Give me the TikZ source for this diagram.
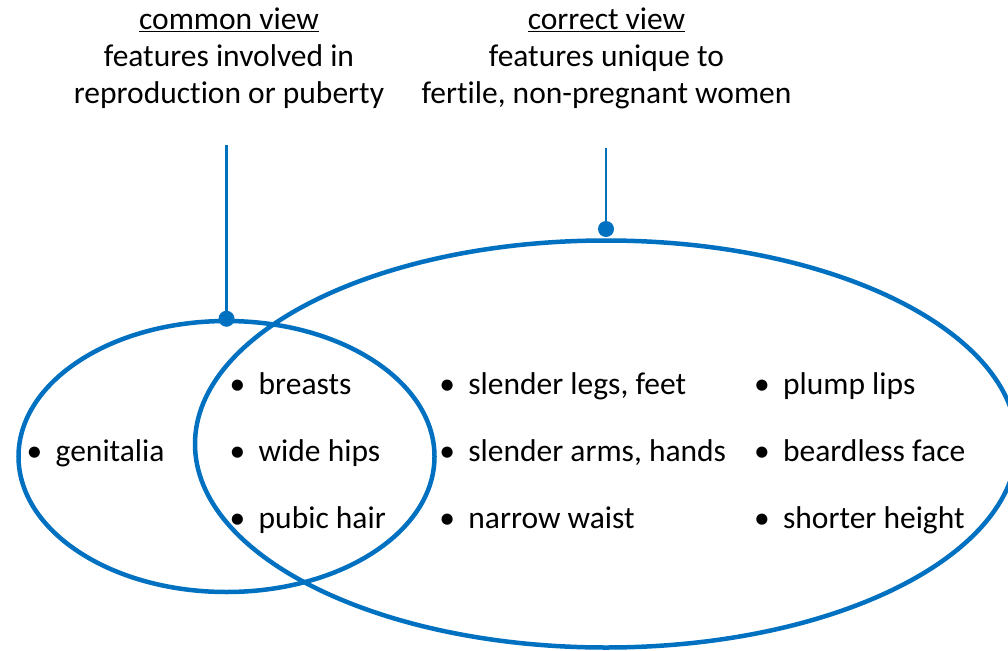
\documentclass[tikz,border=0pt]{standalone}
\usepackage{fontspec}
\setmainfont{Carlito}[Ligatures=NoCommon]
\usetikzlibrary{shapes.geometric}
\definecolor{vblue}{HTML}{0070C0}
\tikzset{
  venn/.style={draw=vblue, line width=4.5pt, ellipse, inner sep=0pt},
  lead/.style={draw=vblue, line width=2.8pt},
  knob/.style={fill=vblue, draw=none},
  title/.style={align=center, inner sep=0pt, font=\fontsize{31.5}{37}\selectfont, anchor=base},
  item/.style={inner sep=0pt, anchor=base west, font=\fontsize{31.5}{37}\selectfont},
}
\newcommand{\bul}{\makebox[29pt][l]{•}}
\begin{document}
\begin{tikzpicture}[x=1pt,y=-1pt]
  \useasboundingbox (0,0) rectangle (1008,650);
  % ellipses
  \node[venn, minimum width=416pt, minimum height=271pt] (small) at (226.5,456.5) {};
  \node[venn, minimum width=822pt, minimum height=407pt] (big) at (606,444) {};
  % titles
  \node[title] (t1) at (229,104) {\underline{common view}\\features involved in\\reproduction or puberty};
  \node[title] (t2) at (606.5,104) {\underline{correct view}\\features unique to\\fertile, non-pregnant women};
  % leader lines
  \coordinate (c1) at (226.5,145);
  \coordinate (c2) at (606,148);
  \coordinate (d2) at (606,229);
  \draw[lead] (c1) -- (small.north);
  \draw[lead] (c2) -- (d2);
  \fill[knob] (small.north) circle (8pt);
  \fill[knob] (d2) circle (8pt);
  % items
  \node[item] (g)  at (26.5,461) {\bul genitalia};
  \node[item] (b1) at (229.5,394) {\bul breasts};
  \node[item] (b2) at (229.5,461) {\bul wide hips};
  \node[item] (b3) at (229.5,528) {\bul pubic hair};
  \node[item] (s1) at (439.2,394) {\bul slender legs, feet};
  \node[item] (s2) at (439.2,461) {\bul slender arms, hands};
  \node[item] (s3) at (439.2,528) {\bul narrow waist};
  \node[item] (p1) at (753.9,394) {\bul plump lips};
  \node[item] (p2) at (753.9,461) {\bul beardless face};
  \node[item] (p3) at (753.9,528) {\bul shorter height};
\end{tikzpicture}
\end{document}
